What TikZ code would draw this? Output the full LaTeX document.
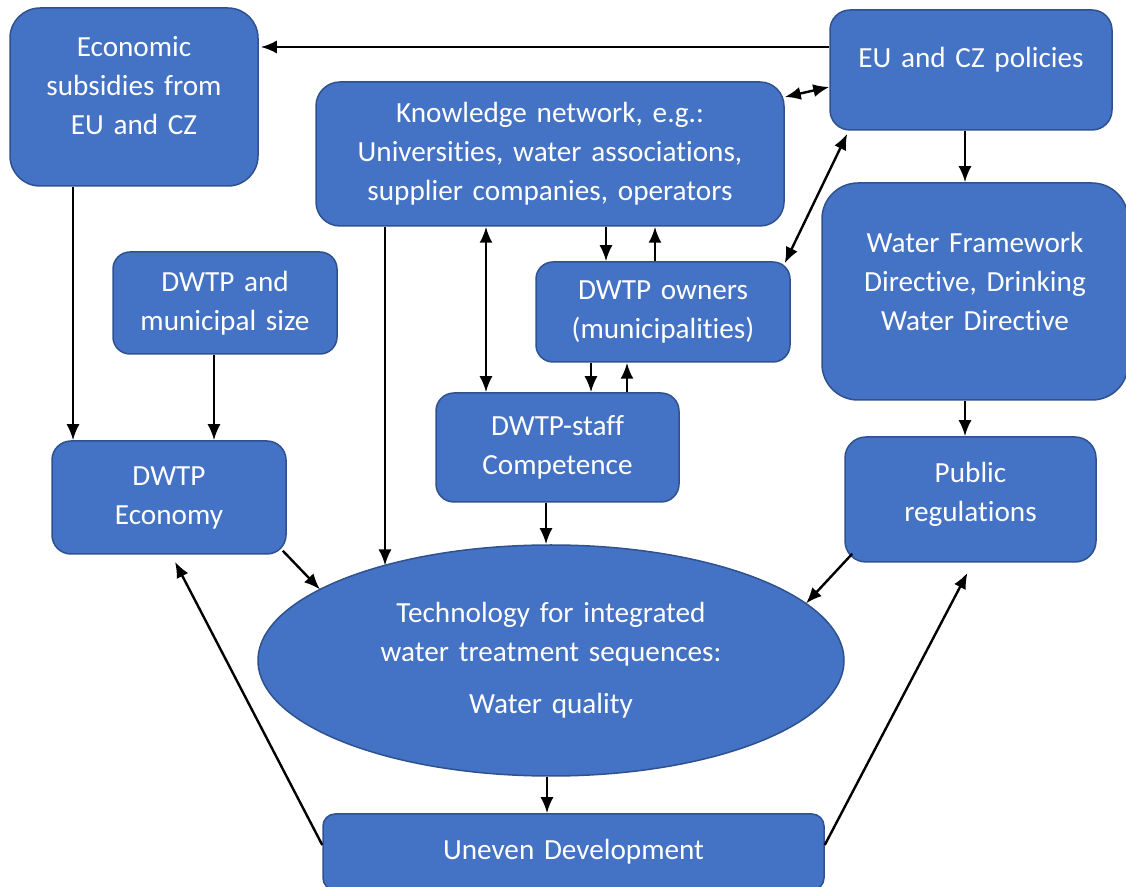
\documentclass[tikz,border=0pt]{standalone}
\usepackage{fontspec}
\setmainfont{Carlito}[Ligatures=NoCommon]
\usepackage{tikz}
\usetikzlibrary{shapes.geometric,arrows.meta,positioning,calc}
\definecolor{boxblue}{HTML}{4472C4}
\definecolor{boxline}{HTML}{2F528F}

\begin{document}
\begin{tikzpicture}[
            x=0.5pt,y=-0.5pt,
            box/.style={draw=boxline,fill=boxblue,line width=0.75pt,text=white,
                align=center,inner sep=0pt,font=\fontsize{14.6pt}{19.5pt}\selectfont},
            oval/.style={box,ellipse},
            every path/.style={line width=1.2pt},
            >={Latex[length=8pt,width=6.5pt]}
        ]
        \useasboundingbox (0,0) rectangle (1126,887);

        % Draw top row %
        \node[box,minimum width=124pt,minimum height=89pt,rounded corners=15pt,text width=114pt]
            (econsub) at (134,97) {Economic\\subsidies from\\EU and CZ\par\vspace*{11pt}};
        \node[box,minimum width=141pt,minimum height=60pt,rounded corners=10pt,text width=130pt]
            (eupol) at (971,70) {EU and CZ policies\par\vspace*{10pt}};
        \node[box,minimum width=234pt,minimum height=72pt,rounded corners=12pt,text width=226pt]
            (knownet) at (550,154) {Knowledge network, e.g.:\\Universities, water associations,\\supplier companies, operators};

        % Draw middle boxes %
        \node[box,minimum width=112pt,minimum height=51pt,rounded corners=8.5pt,text width=104pt]
            (dwtpsize) at (225,303) {DWTP and\\municipal size};
        \node[box,minimum width=127pt,minimum height=50pt,rounded corners=8.5pt,text width=118pt]
            (owners) at (663,312) {DWTP owners\\(municipalities)};
        \node[box,minimum width=153pt,minimum height=108.5pt,rounded corners=18pt,text width=140pt]
            (wfd) at (975,291.5) {Water Framework\\Directive, Drinking\\Water Directive\par\vspace*{10pt}};
        \node[box,minimum width=121.5pt,minimum height=54.5pt,rounded corners=9pt,text width=112pt]
            (staff) at (557.5,447.5) {DWTP-staff\\Competence};
        \node[box,minimum width=117pt,minimum height=56.5pt,rounded corners=9.5pt,text width=108pt]
            (economy) at (169,497.5) {DWTP\\Economy};
        \node[box,minimum width=125.5pt,minimum height=62.5pt,rounded corners=10.5pt,text width=116pt]
            (pubreg) at (970.5,499.5) {Public\\regulations\par\vspace*{5pt}};

        % Draw technology and development %
        \node[oval,minimum width=293pt,minimum height=115.5pt,text width=200pt]
            (tech) at (551,660.5) {\hyphenpenalty=10000 Technology for integrated\\water treatment sequences:\\[6.5pt]Water quality};
        \node[box,minimum width=250.5pt,minimum height=38pt,rounded corners=6pt,text width=240pt]
            (uneven) at (573.5,852) {Uneven Development};

        % Draw arrows %
        \draw[->] ($(eupol.west)+(0,-23)$) -- ($(econsub.east)+(2,-50)$);
        \draw[<->] ($(knownet.east)+(0,-57)$) -- ($(eupol.west)+(0,17)$);
        \draw[<->] ($(owners.north east)+(-6,2)$) -- ($(eupol.south west)+(18,3)$);
        \draw[->] ($(econsub.south)+(-61,0)$) -- ($(economy.north)+(-96,0)$);
        \draw[->] ($(dwtpsize.south)+(-11,0)$) -- ($(economy.north)+(45,0)$);
        \draw[->] ($(knownet.south)+(-165,0)$) -- ($(tech.center)+(-166,-95)$);
        \draw[<->] ($(knownet.south)+(-64,0)$) -- ($(staff.north)+(-71.5,0)$);
        \draw[->] ($(knownet.south)+(56,0)$) -- ($(owners.north)+(-57,0)$);
        \draw[->] ($(owners.north)+(-8,0)$) -- ($(knownet.south)+(105,0)$);
        \draw[->] ($(owners.south)+(-72,0)$) -- ($(staff.north)+(33.5,0)$);
        \draw[->] ($(staff.north)+(69.5,0)$) -- ($(owners.south)+(-36,0)$);
        \draw[->] ($(staff.south)+(-11.5,0)$) -- ($(tech.north)+(-5,0)$);
        \draw[->] ($(eupol.south)+(-6,0)$) -- ($(wfd.north)+(-10,0)$);
        \draw[->] ($(wfd.south)+(-10,0)$) -- ($(pubreg.north)+(-5.5,0)$);
        \draw[->] ($(economy.south east)+(-4,-4)$) -- ($(tech.center)+(-231,-71)$);
        \draw[->] ($(pubreg.south west)+(8,-9)$) -- ($(tech.center)+(255,-57)$);
        \draw[->] ($(tech.south)+(-4,0)$) -- ($(uneven.north)+(-26.5,0)$);
        \draw[->] ($(uneven.west)+(0,-7)$) -- ($(economy.south)+(6,7)$);
        \draw[->] ($(uneven.east)+(0,-7)$) -- ($(pubreg.south)+(-3,10)$);
        \end{tikzpicture}
\end{document}
